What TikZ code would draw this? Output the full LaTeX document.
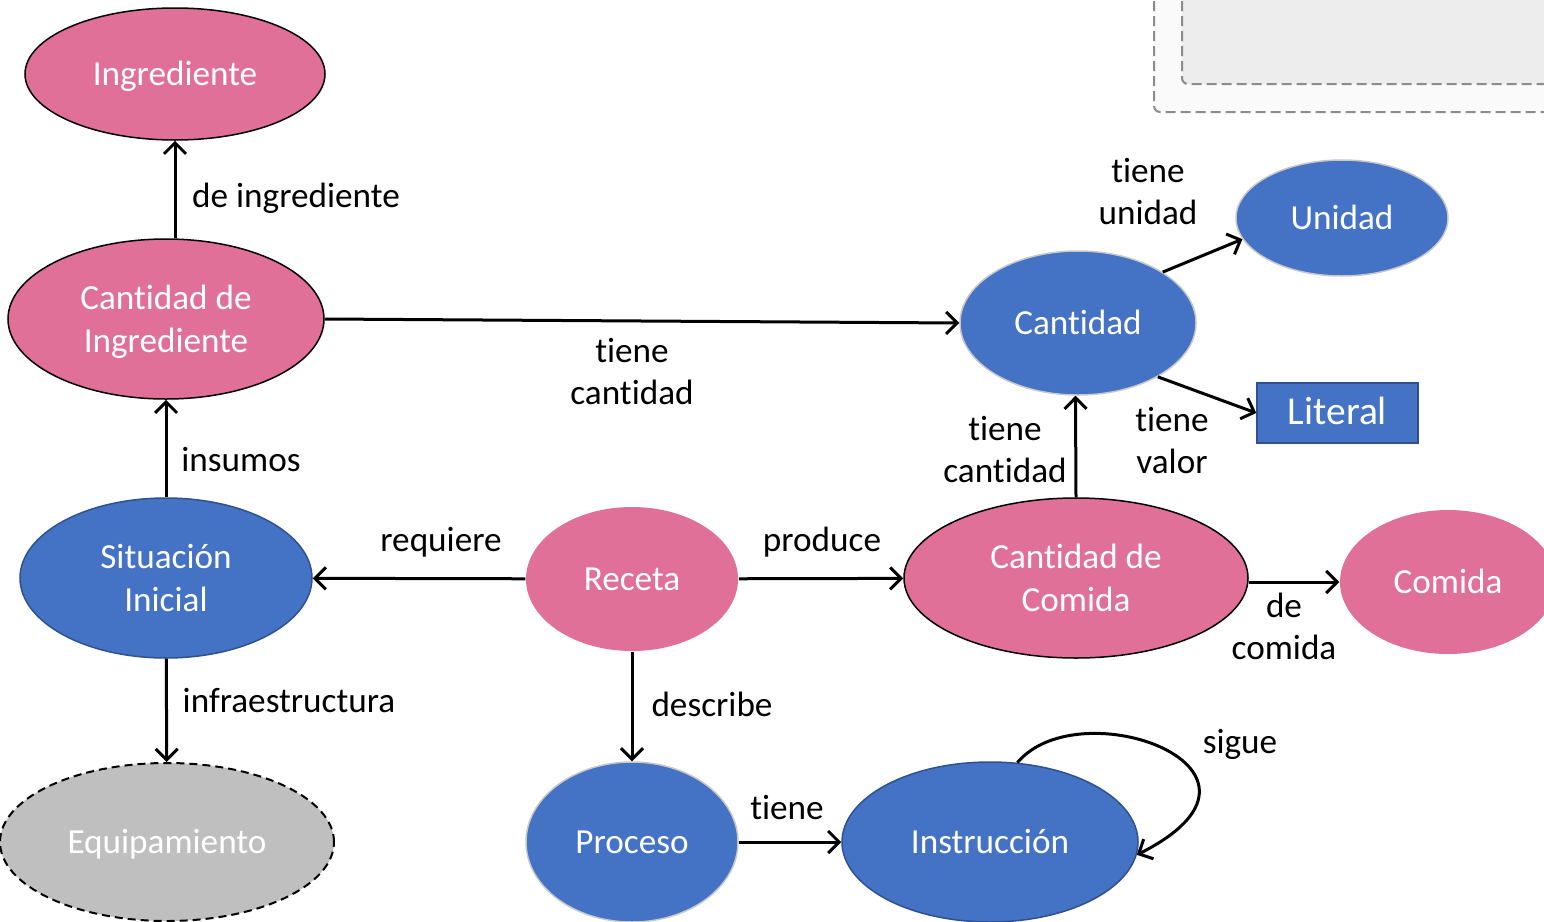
\documentclass[tikz,border=0pt]{standalone}
\usepackage{fontspec}
\setmainfont{Carlito}[Ligatures={NoCommon}]
\usetikzlibrary{shapes.geometric,arrows.meta}
\definecolor{pk}{RGB}{224,112,152}
\definecolor{bl}{RGB}{68,114,196}
\definecolor{dbl}{RGB}{47,82,143}
\definecolor{gy}{RGB}{191,191,191}
\definecolor{lgy}{RGB}{200,200,200}
\definecolor{boxline}{RGB}{140,140,140}
\begin{document}
\begin{tikzpicture}[x=1pt,y=-1pt,
  every node/.style={font=\fontsize{35.2}{43}\selectfont, text height=30pt, text depth=8pt, inner sep=0pt},
  two/.style={text height=74pt, text depth=8pt},
  ell/.style={ellipse, text=white, align=center, line width=1.5pt},
  pinkell/.style={ell, fill=pk},
  blueell/.style={ell, fill=bl},
  lbl/.style={align=center, text=black, font=\fontsize{35.2}{42}\selectfont},
  conn/.style={line width=3pt, -{Straight Barb[length=11pt,width=22pt,line width=3pt]}}
]
\useasboundingbox (0,0) rectangle (1544,921);
% dashed boxes top right
\draw[boxline, line width=2pt, dash pattern=on 10pt off 5pt, fill=black!2, rounded corners=6pt] (1154,-20) rectangle (1570,112);
\draw[boxline, line width=2pt, dash pattern=on 10pt off 5pt, fill=black!7, rounded corners=6pt] (1182,-20) rectangle (1570,84);

% nodes
\node[pinkell, draw=black, minimum width=300pt, minimum height=132pt] (ing) at (175,74) {Ingrediente};
\node[pinkell, two, draw=black, minimum width=316pt, minimum height=160pt] (cding) at (166,319) {Cantidad de\\Ingrediente};
\node[blueell, two, draw=dbl, minimum width=292pt, minimum height=160pt] (sit) at (166,578) {Situación\\Inicial};
\node[ell, fill=gy, draw=black, dash pattern=on 8pt off 5pt, line width=2pt, minimum width=334pt, minimum height=158pt] (equ) at (167,842) {Equipamiento};
\node[pinkell, minimum width=212pt, minimum height=144pt] (rec) at (632,579) {Receta};
\node[blueell, draw=lgy, minimum width=212pt, minimum height=160pt] (pro) at (632,842) {Proceso};
\node[blueell, draw=dbl, minimum width=296pt, minimum height=160pt] (ins) at (990,842) {Instrucción};
\node[pinkell, two, draw=black, minimum width=344pt, minimum height=160pt] (cdc) at (1076,578) {Cantidad de\\Comida};
\node[pinkell, minimum width=216pt, minimum height=144pt] (com) at (1448,582) {Comida};
\node[blueell, draw=lgy, minimum width=236pt, minimum height=144pt] (can) at (1078,323) {Cantidad};
\node[blueell, draw=lgy, minimum width=212pt, minimum height=116pt] (uni) at (1342,218) {Unidad};
\node[rectangle, fill=bl, draw=dbl, line width=1.5pt, text=white, minimum width=161pt, minimum height=60pt, font=\fontsize{39.5}{46}\selectfont] (lit) at (1337.5,413) {Literal};

% connectors
\draw[conn] (ing.south |- cding.north) -- (ing.south);
\draw[conn] (sit) -- (cding);
\draw[conn] (sit) -- (equ);
\draw[conn] (rec) -- (sit);
\draw[conn] (rec) -- (cdc);
\draw[conn] (rec) -- (pro);
\draw[conn] (pro) -- (ins);
\draw[conn] (ins.71) .. controls (1080,688) and (1305,770) .. (ins.-5);
\draw[conn] (cdc.90) -- (can.268);
\draw[conn] (com.west -| cdc.east) -- (com.west);
\draw[conn] (cding.east) -- (can.west);
\draw[conn] (can.31) -- (uni.192);
\draw[conn] (can.-34) -- (lit.west);

% labels
\node[lbl] (l1) at (296,196) {de ingrediente};
\node[lbl] (l2) at (241,460) {insumos};
\node[lbl] (l3) at (289,701) {infraestructura};
\node[lbl] (l4) at (441,540) {requiere};
\node[lbl] (l5) at (822,540) {produce};
\node[lbl] (l6) at (712,705) {describe};
\node[lbl] (l7) at (787,808) {tiene};
\node[lbl] (l8) at (1240,742) {sigue};
\node[lbl, two] (l9) at (1005,449) {tiene\\cantidad};
\node[lbl, two] (l10) at (1284,626) {de\\comida};
\node[lbl, two] (l11) at (632,371) {tiene\\cantidad};
\node[lbl, two] (l12) at (1148,191) {tiene\\unidad};
\node[lbl, two] (l13) at (1172,440) {tiene\\valor};
\end{tikzpicture}
\end{document}
